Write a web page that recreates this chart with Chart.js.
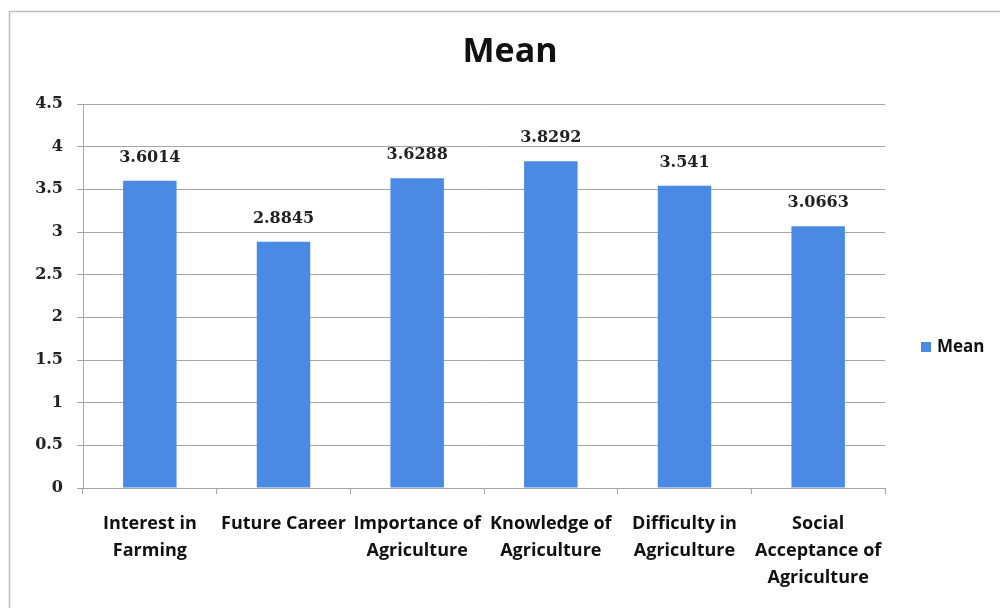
<!DOCTYPE html>
<html>
<head>
<meta charset="utf-8">
<script src="https://cdn.jsdelivr.net/npm/chart.js@4"></script>
<style>
  html, body { margin: 0; padding: 0; background: #fff; }
  #wrap { width: 1000px; height: 608px; position: relative; }
</style>
</head>
<body>
<div id="wrap"><canvas id="meanChart" width="1000" height="608"></canvas></div>
<script>
const categories = [
  ["Interest in", "Farming"],
  ["Future Career"],
  ["Importance of", "Agriculture"],
  ["Knowledge of", "Agriculture"],
  ["Difficulty in", "Agriculture"],
  ["Social", "Acceptance of", "Agriculture"]
];
const meanValues = [3.6014, 2.8845, 3.6288, 3.8292, 3.541, 3.0663];
const meanLabels = ["3.6014", "2.8845", "3.6288", "3.8292", "3.541", "3.0663"];
const seriesName = "Mean";
const chartTitle = "Mean";

const barColor = "#4a89e4";
const gridColor = "#a6a6a6";
const labelFont = "'Open Sans', Lato, sans-serif";
const numFont = "'DejaVu Serif', 'Liberation Serif', serif";

// frame, title, value labels and legend
const extras = {
  id: "extras",
  beforeDraw(chart) {
    const ctx = chart.ctx;
    ctx.save();
    ctx.strokeStyle = "#bdbdbd";
    ctx.lineWidth = 1.5;
    ctx.beginPath();
    ctx.moveTo(9.5, 700);
    ctx.lineTo(9.5, 11.5);
    ctx.lineTo(1010, 11.5);
    ctx.stroke();
    ctx.restore();
  },
  afterDraw(chart) {
    const ctx = chart.ctx;
    ctx.save();
    ctx.fillStyle = "#111";
    ctx.textAlign = "center";
    ctx.textBaseline = "middle";
    ctx.font = "bold 34px " + labelFont;
    ctx.fillText(chartTitle, 510, 52);

    ctx.font = "bold 16px " + numFont;
    ctx.fillStyle = "#222";
    const meta = chart.getDatasetMeta(0);
    meta.data.forEach((bar, i) => {
      ctx.fillText(meanLabels[i], bar.x, bar.y - 23);
    });

    // legend
    ctx.fillStyle = barColor;
    ctx.fillRect(921, 342, 10, 10);
    ctx.fillStyle = "#111";
    ctx.textAlign = "left";
    ctx.font = "bold 17px " + labelFont;
    ctx.fillText(seriesName, 937, 347);
    ctx.restore();
  }
};

new Chart(document.getElementById("meanChart"), {
  type: "bar",
  data: {
    labels: categories,
    datasets: [{
      label: seriesName,
      data: meanValues,
      backgroundColor: barColor,
      borderWidth: 0,
      categoryPercentage: 1,
      barPercentage: 0.4
    }]
  },
  options: {
    responsive: false,
    animation: false,
    devicePixelRatio: 1,
    layout: { padding: { left: 0, top: 104, right: 115, bottom: 20 } },
    plugins: {
      legend: { display: false },
      title: { display: false },
      tooltip: { enabled: false }
    },
    scales: {
      x: {
        afterFit: s => { s.height = 100; },
        grid: { display: true, drawOnChartArea: false, drawTicks: true, tickLength: 6, color: gridColor, offset: true },
        border: { color: gridColor, width: 1 },
        ticks: { color: "#111", font: { family: labelFont, size: 18, weight: "bold", lineHeight: 1.5 }, padding: 16, maxRotation: 0, autoSkip: false }
      },
      y: {
        min: 0,
        max: 4.5,
        afterFit: s => { s.width = 83; },
        grid: { color: gridColor, tickLength: 6, lineWidth: 1 },
        border: { color: gridColor, width: 1 },
        ticks: { stepSize: 0.5, color: "#222", font: { family: numFont, size: 16, weight: "bold" }, padding: 14, callback: v => String(v) }
      }
    }
  },
  plugins: [extras]
});
</script>
</body>
</html>
